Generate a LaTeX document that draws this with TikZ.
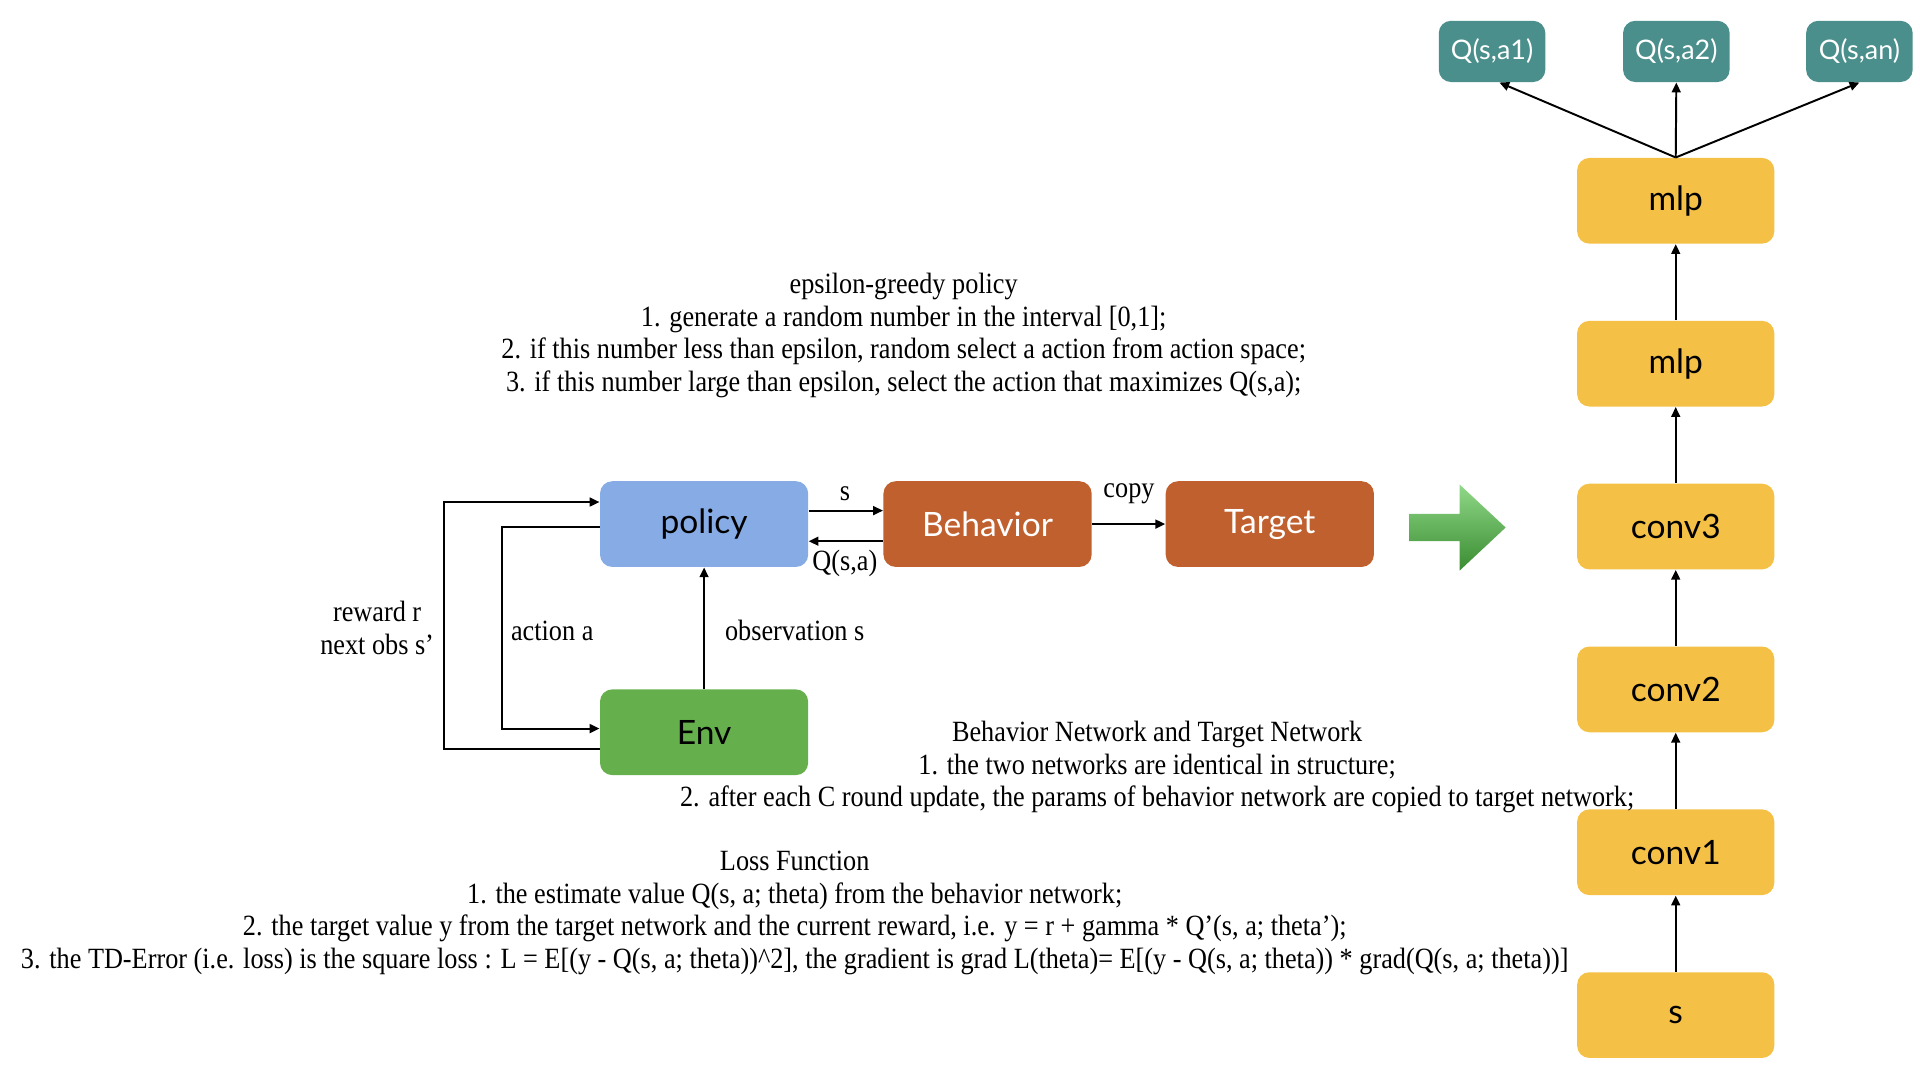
\documentclass[tikz,border=0pt]{standalone}
\usepackage{fontspec}
\setmainfont[FakeStretch=0.893]{Liberation Serif}
\newfontfamily\boxfont{Lato}
\usetikzlibrary{arrows.meta}
\definecolor{cblue}{RGB}{134,171,229}
\definecolor{corange}{RGB}{192,96,47}
\definecolor{cgreen}{RGB}{101,176,76}
\definecolor{cyellow}{RGB}{244,192,70}
\definecolor{cteal}{RGB}{74,143,140}
\definecolor{garrTop}{RGB}{143,216,135}
\definecolor{garrBot}{RGB}{58,140,50}
\tikzset{
  box/.style={rounded corners=5pt, minimum width=85pt, minimum height=35pt, inner sep=0pt,
    font={\boxfont\fontsize{13.7}{16}\selectfont}},
  bluebox/.style={box, fill=cblue, text=black},
  orangebox/.style={box, fill=corange, text=white},
  greenbox/.style={box, fill=cgreen, text=black},
  ybox/.style={box, fill=cyellow, text=black, minimum width=80.5pt},
  qbox/.style={rounded corners=5pt, minimum width=43.5pt, minimum height=25pt, inner sep=0pt,
    fill=cteal, text=white, font={\boxfont\fontsize{11}{13}\selectfont}},
  arr/.style={-{Triangle[length=4pt,width=3.6pt]}, line width=0.8pt},
  lbl/.style={inner sep=0pt, font={\fontsize{12}{13.25}\selectfont}},
  para/.style={inner sep=0pt, align=center, font={\fontsize{12}{13.25}\selectfont}}
}
\begin{document}
\begin{tikzpicture}[x=0.5pt,y=-0.5pt]
\useasboundingbox (0,0) rectangle (1568,882);

% left diagram boxes
\node[bluebox] (policy) at (575,428) {policy};
\node[orangebox] (beh) at (806.5,428) {Behavior};
\node[orangebox] (tgt) at (1037,428) {Target};
\node[greenbox] (env) at (575,598) {Env};

% network stack
\node[ybox] (s) at (1368.5,829) {s};
\node[ybox] (c1) at (1368.5,696) {conv1};
\node[ybox] (c2) at (1368.5,563) {conv2};
\node[ybox] (c3) at (1368.5,430) {conv3};
\node[ybox] (m1) at (1368.5,297) {mlp};
\node[ybox] (m2) at (1368.5,164) {mlp};
\node[qbox] (q1) at (1218.5,42) {Q(s,a1)};
\node[qbox] (q2) at (1369,42) {Q(s,a2)};
\node[qbox] (q3) at (1518.5,42) {Q(s,an)};

% connectors left
\draw[arr] ([yshift=5.5pt]policy.east) -- ([yshift=5.5pt]beh.west);
\draw[arr] ([yshift=-7pt]beh.west) -- ([yshift=-7pt]policy.east);
\draw[arr] (beh.east) -- (tgt.west);
\draw[arr] (env.north) -- (policy.south);
\draw[arr] ([yshift=-1pt]policy.west) -- ++(-80,0) |- ([yshift=1.5pt]env.west);
\draw[arr] ([yshift=-7pt]env.west) -- ++(-127,0) |- ([yshift=9pt]policy.west);

% labels
\node[lbl] (ls) at (690,403) {s};
\node[lbl] (lq) at (690,460) {Q(s,a)};
\node[lbl] (lcopy) at (922,403) {copy};
\node[lbl] (lobs) at (649,515) {observation s};
\node[lbl] (lact) at (451,515) {action a};
\node[para] (lrew) at (308,513) {reward r\\next obs s’};

% network connectors
\draw[arr] (s) -- (c1);
\draw[arr] (c1) -- (c2);
\draw[arr] (c2) -- (c3);
\draw[arr] (c3) -- (m1);
\draw[arr] (m1) -- (m2);
\draw[arr] (m2.north) -- ([xshift=3pt]q1.south);
\draw[arr] (m2.north) -- (q2.south);
\draw[arr] (m2.north) -- (q3.south);

% big green arrow
\shade[top color=garrTop, bottom color=garrBot]
  (1151,419.6) -- (1192,419.6) -- (1192,395.7) -- (1229.6,430.8) -- (1192,466) -- (1192,442) -- (1151,442) -- cycle;

% text blocks
\node[para] (eps) at (738,274) {epsilon-greedy policy\\
1. generate a random number in the interval [0,1];\\
2. if this number less than epsilon, random select a action from action space;\\
3. if this number large than epsilon, select the action that maximizes Q(s,a);};

\node[para] (bn) at (945,626.5) {Behavior Network and Target Network\\
1. the two networks are identical in structure;\\
2. after each C round update, the params of behavior network are copied to target network;};

\node[para] (loss) at (649,745.5) {Loss Function\\
1. the estimate value Q(s, a; theta) from the behavior network;\\
2. the target value y from the target network and the current reward, i.e. y = r + gamma * Q’(s, a; theta’);\\
3. the TD-Error (i.e. loss) is the square loss : L = E[(y - Q(s, a; theta))\textasciicircum 2], the gradient is grad L(theta)= E[(y - Q(s, a; theta)) * grad(Q(s, a; theta))]};
\end{tikzpicture}
\end{document}
